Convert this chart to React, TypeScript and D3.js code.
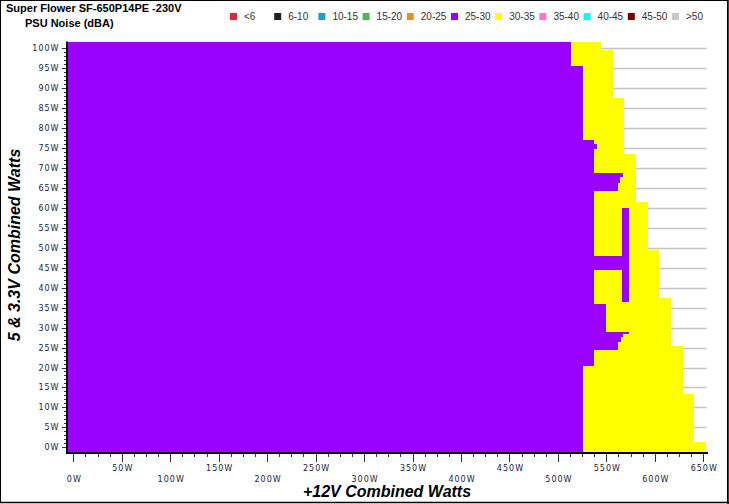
import React from 'react';
import * as d3 from 'd3';

// Legend categories (noise in dBA) and colours
const legendLabels = ['<6', '6-10', '10-15', '15-20', '20-25', '25-30', '30-35', '35-40', '40-45', '45-50', '>50'];
const legendColors = ['#e02a2a', '#222222', '#1aa0d8', '#4cb85c', '#e8902a', '#9900ff', '#ffff00', '#ff77cc', '#00ffff', '#800000', '#c8c8c8'];

// Axis ticks (watts)
const yTickValues = d3.range(0, 101, 5);
const xTickValues = d3.range(0, 651, 50);

// Noise map rows: [5&3.3V low, 5&3.3V high, +12V end] in watts
const minLoad12V = -5.5;
const yellowRows: [number, number, number][] = [
  [99.6, 101.6, 544],
  [87.5, 99.6, 556.5],
  [73.5, 87.5, 568.5],
  [61.5, 73.5, 580.5],
  [49.5, 61.5, 592.5],
  [37.3, 49.5, 604.5],
  [25.4, 37.3, 616.5],
  [13.4, 25.4, 629.5],
  [1.3, 13.4, 640.5],
  [-1.1, 1.3, 653],
];
const purpleRows: [number, number, number][] = [
  [95.6, 101.6, 514],
  [77.0, 95.6, 525.5],
  [76.0, 77.0, 537],
  [74.7, 76.0, 540],
  [68.8, 74.7, 537],
  [67.7, 68.8, 567],
  [66.2, 67.7, 564],
  [64.2, 66.2, 562],
  [47.9, 64.2, 537],
  [44.4, 47.9, 573],
  [35.9, 44.4, 537],
  [29.0, 35.9, 549.5],
  [28.4, 29.0, 573],
  [27.6, 28.4, 567],
  [26.5, 27.6, 565],
  [24.4, 26.5, 562],
  [20.4, 24.4, 537],
  [-1.1, 20.4, 525.5],
];
// Purple islands inside the yellow area: [low, high, start, end]
const purpleIslands: [number, number, number, number][] = [
  [36.5, 59.9, 566, 573],
];

const W = 729;
const H = 504;

export default function App() {
  const x = d3.scaleLinear().domain([0, 650]).range([73.3, 703.3]);
  const y = d3.scaleLinear().domain([0, 100]).range([447.3, 48.3]);
  const legendX = d3.scaleLinear().domain([0, 10]).range([230, 672]);

  const purple = legendColors[5];
  const yellow = legendColors[6];
  const tickFont = '"DejaVu Sans", Verdana, sans-serif';
  const tickColor = '#1c1c40';

  const minorY = d3.range(0, 101, 1).filter((v) => v % 5 !== 0);
  const minorX = d3.range(0, 651, 12.5).filter((v) => v % 50 !== 0);

  return (
    <svg
      width={W}
      height={H}
      style={{ position: 'absolute', left: 0, top: 0, background: '#fff' }}
      fontFamily="Arial, 'Liberation Sans', sans-serif"
    >
      <rect x={0} y={0} width={W} height={H} fill="#fff" />
      {/* border */}
      <rect x={0.5} y={0.5} width={727} height={502} fill="none" stroke="#000" strokeWidth={1} />
      <line x1={728} x2={728} y1={0} y2={504} stroke="#000" strokeWidth={1.5} />
      <line x1={0} x2={729} y1={502.5} y2={502.5} stroke="#000" strokeWidth={1.5} />

      {/* titles */}
      <text x={6} y={12} fontSize={11} fontWeight="bold" fill="#000">Super Flower SF-650P14PE -230V</text>
      <text x={25} y={26.5} fontSize={11} fontWeight="bold" fill="#000">PSU Noise (dBA)</text>

      {/* legend */}
      {legendLabels.map((lab, i) => (
        <g key={lab}>
          <rect x={legendX(i)} y={13} width={7} height={7} fill={legendColors[i]} />
          <text x={legendX(i) + 14} y={20} fontSize={10} fill="#333">{lab}</text>
        </g>
      ))}

      {/* gridlines */}
      {yTickValues.map((v) => (
        <line key={'g' + v} x1={68} x2={706.5} y1={Math.round(y(v)) + 0.5} y2={Math.round(y(v)) + 0.5} stroke="#c4c4c4" strokeWidth={1.5} />
      ))}

      {/* noise map */}
      <g shapeRendering="crispEdges">
        {yellowRows.map(([lo, hi, end], i) => (
          <rect key={'y' + i} x={x(minLoad12V)} y={y(hi)} width={x(end) - x(minLoad12V)} height={y(lo) - y(hi)} fill={yellow} />
        ))}
        {purpleRows.map(([lo, hi, end], i) => (
          <rect key={'p' + i} x={x(minLoad12V)} y={y(hi)} width={x(end) - x(minLoad12V)} height={y(lo) - y(hi)} fill={purple} />
        ))}
        {purpleIslands.map(([lo, hi, s, e], i) => (
          <rect key={'pi' + i} x={x(s)} y={y(hi)} width={x(e) - x(s)} height={y(lo) - y(hi)} fill={purple} />
        ))}
      </g>

      {/* axes */}
      <line x1={67} x2={67} y1={41.5} y2={454} stroke="#000" strokeWidth={2} />
      <line x1={66} x2={708} y1={453} y2={453} stroke="#000" strokeWidth={2} />

      {/* y ticks */}
      {yTickValues.map((v) => (
        <g key={'yt' + v}>
          <line x1={62} x2={66} y1={Math.round(y(v)) + 0.5} y2={Math.round(y(v)) + 0.5} stroke="#333" strokeWidth={1} />
          <text x={59.5} y={y(v) + 3} fontSize={8} textAnchor="end" fill={tickColor} fontFamily={tickFont} letterSpacing={1}>
            {v}W
          </text>
        </g>
      ))}
      {minorY.map((v) => (
        <line key={'ym' + v} x1={64} x2={66} y1={Math.round(y(v)) + 0.5} y2={Math.round(y(v)) + 0.5} stroke="#333" strokeWidth={1} />
      ))}

      {/* x ticks */}
      {xTickValues.map((v, i) => (
        <g key={'xt' + v}>
          <line x1={Math.round(x(v)) + 0.5} x2={Math.round(x(v)) + 0.5} y1={454} y2={462} stroke="#333" strokeWidth={1} />
          <text x={x(v) + 1} y={i % 2 === 0 ? 482 : 471} fontSize={8} textAnchor="middle" fill={tickColor} fontFamily={tickFont} letterSpacing={1}>
            {v}W
          </text>
        </g>
      ))}
      {minorX.map((v) => (
        <line key={'xm' + v} x1={Math.round(x(v)) + 0.5} x2={Math.round(x(v)) + 0.5} y1={454} y2={457} stroke="#333" strokeWidth={1} />
      ))}

      {/* axis titles */}
      <text x={387} y={497} fontSize={16} fontWeight="bold" fontStyle="italic" textAnchor="middle" fill="#000">
        +12V Combined Watts
      </text>
      <text
        transform="translate(20,245) rotate(-90)"
        fontSize={16}
        fontWeight="bold"
        fontStyle="italic"
        textAnchor="middle"
        fill="#000"
      >
        5 &amp; 3.3V Combined Watts
      </text>
    </svg>
  );
}
